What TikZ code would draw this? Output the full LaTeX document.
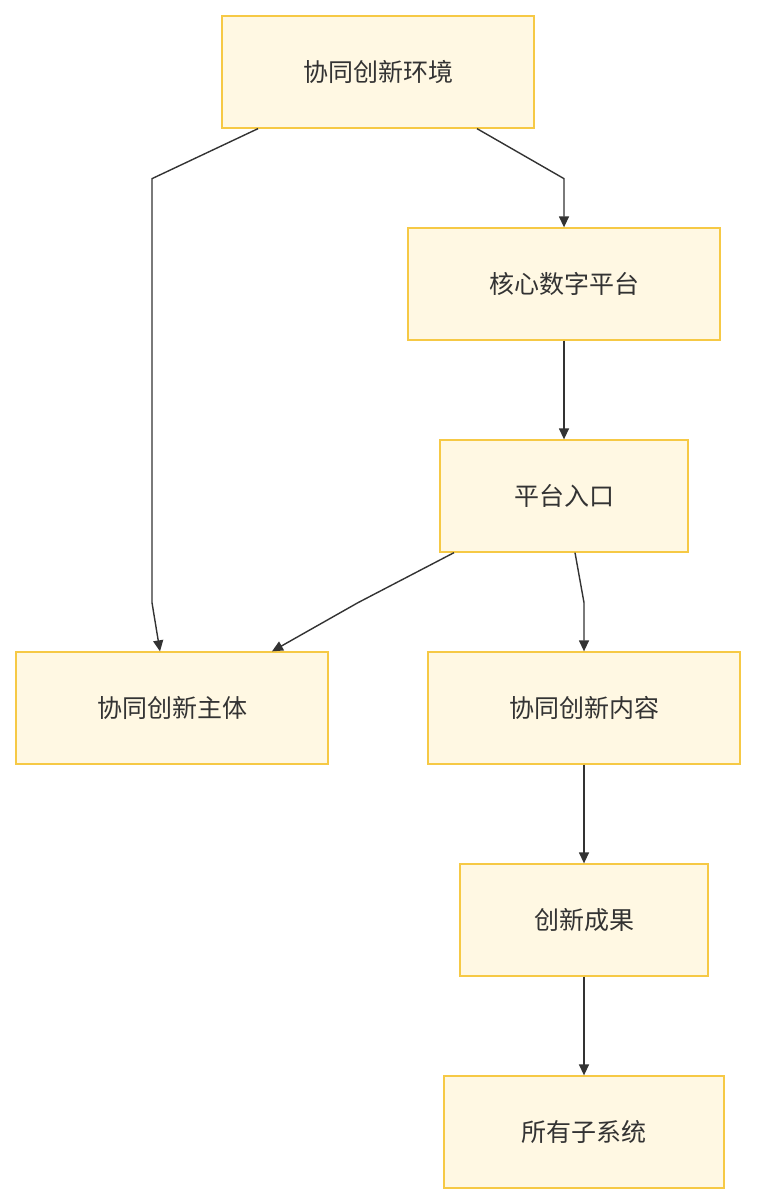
\documentclass[tikz,border=0pt]{standalone}
\usepackage{fontspec}
\setmainfont{Noto Sans CJK SC}
\usetikzlibrary{arrows.meta}
\definecolor{boxfill}{HTML}{FFF8E3}
\definecolor{boxline}{HTML}{F6C945}
\definecolor{edge}{HTML}{333333}
\begin{document}
\begin{tikzpicture}[x=1pt,y=-1pt,
  box/.style={draw=boxline,fill=boxfill,line width=1.3pt,minimum height=112pt,inner sep=0pt,font=\fontsize{25}{30}\selectfont,text=black!80},
  conn/.style={draw=edge,line width=1.4pt,-{Triangle[length=11pt,width=10pt]}}]
\useasboundingbox[fill=white] (0,0) rectangle (756,1204);
\node[box,minimum width=312pt] (env) at (378,72) {协同创新环境};
\node[box,minimum width=312pt] (plat) at (564,284) {核心数字平台};
\node[box,minimum width=248pt] (entry) at (564,496) {平台入口};
\node[box,minimum width=312pt] (subj) at (172,708) {协同创新主体};
\node[box,minimum width=312pt] (cont) at (584,708) {协同创新内容};
\node[box,minimum width=248pt] (res) at (584,920) {创新成果};
\node[box,minimum width=280pt] (sys) at (584,1132) {所有子系统};
\draw[conn] ([xshift=99pt]env.south) -- ++(87,50) -- (plat.north);
\draw[conn] ([xshift=-120pt]env.south) -- ++(-106,50) |- ++(0,424) -- ([xshift=-12pt]subj.north);
\draw[conn] (plat) -- (entry);
\draw[conn] ([xshift=-110pt]entry.south) -- ++(-96,50) -- ([xshift=100pt]subj.north);
\draw[conn] ([xshift=11pt]entry.south) -- ++(9,50) -- (cont.north);
\draw[conn] (cont) -- (res);
\draw[conn] (res) -- (sys);
\end{tikzpicture}
\end{document}
